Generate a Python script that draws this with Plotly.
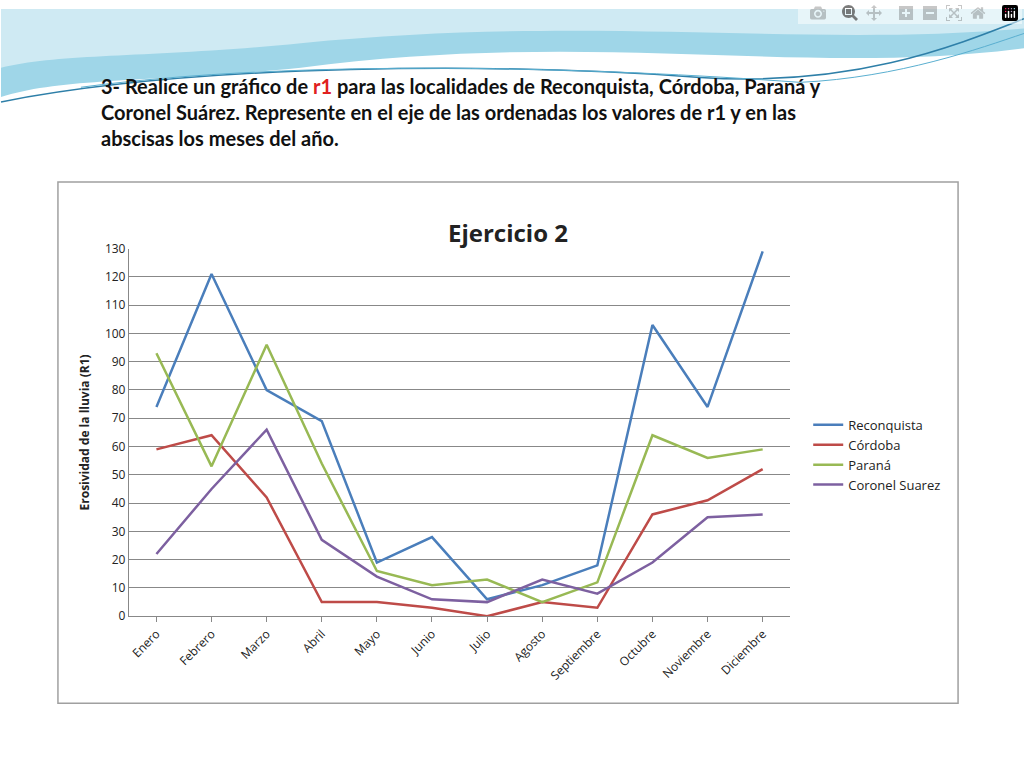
import plotly.graph_objects as go

months = ["Enero", "Febrero", "Marzo", "Abril", "Mayo", "Junio", "Julio",
          "Agosto", "Septiembre", "Octubre", "Noviembre", "Diciembre"]
reconquista = [74, 121, 80, 69, 19, 28, 6, 11, 18, 103, 74, 129]
cordoba = [59, 64, 42, 5, 5, 3, 0, 5, 3, 36, 41, 52]
parana = [93, 53, 96, 54, 16, 11, 13, 5, 12, 64, 56, 59]
coronel = [22, 45, 66, 27, 14, 6, 5, 13, 8, 19, 35, 36]

series = [
    ("Reconquista", reconquista, "#4A7EBB"),
    ("Córdoba", cordoba, "#BE4B48"),
    ("Paraná", parana, "#98B954"),
    ("Coronel Suarez", coronel, "#7D60A0"),
]

W, H = 1024, 768


def px(x, y):
    return f"{x / W:.4f},{1 - y / H:.4f}"


fig = go.Figure()
for name, vals, color in series:
    fig.add_trace(go.Scatter(x=months, y=vals, mode="lines", name=name,
                             line=dict(color=color, width=2.5)))

shapes = [
    # top decoration waves
    dict(type="path", xref="paper", yref="paper", line=dict(width=0),
         fillcolor="#9FD6E8",
         path=f"M{px(0,0)} L{px(1024,0)} L{px(1024,40)} C{px(800,70)} {px(600,20)} {px(300,60)} C{px(150,75)} {px(60,70)} {px(0,90)} Z"),
    dict(type="path", xref="paper", yref="paper", line=dict(width=0),
         fillcolor="#CFEAF3",
         path=f"M{px(0,0)} L{px(1024,0)} L{px(1024,20)} C{px(800,40)} {px(600,5)} {px(300,35)} C{px(150,50)} {px(60,45)} {px(0,60)} Z"),
    dict(type="path", xref="paper", yref="paper", line=dict(color="#2E7FA8", width=1.5),
         path=f"M{px(0,95)} C{px(200,55)} {px(500,55)} {px(700,70)} C{px(850,80)} {px(950,40)} {px(1024,10)}"),
    dict(type="path", xref="paper", yref="paper", line=dict(color="#5AAFD0", width=1),
         path=f"M{px(80,80)} C{px(300,50)} {px(600,60)} {px(800,75)} C{px(900,70)} {px(980,40)} {px(1024,25)}"),
    # chart box
    dict(type="rect", xref="paper", yref="paper", x0=57 / W, x1=958 / W,
         y0=1 - 710 / H, y1=1 - 177 / H, line=dict(color="#A0A0A0", width=1.5),
         fillcolor="white", layer="below"),
]

fig.update_layout(
    width=W, height=H,
    margin=dict(l=0, r=0, t=0, b=0),
    paper_bgcolor="white", plot_bgcolor="white",
    font=dict(family="Open Sans, Arial", color="#222"),
    shapes=shapes,
    xaxis=dict(domain=[128 / W, 790 / W], tickangle=-45, showgrid=False,
               showline=True, linecolor="#888", ticks="outside", tickcolor="#888",
               tickfont=dict(size=12), range=[-0.5, 11.5]),
    yaxis=dict(domain=[1 - 621 / H, 1 - 245 / H], range=[0, 130], dtick=10,
               showgrid=True, gridcolor="#888", gridwidth=1, showline=True,
               linecolor="#888", tickfont=dict(size=12, family="Open Sans"),
               title=dict(text="<b>Erosividad de la lluvia (R1)</b>",
                          font=dict(size=12), standoff=12)),
    legend=dict(x=808 / W, y=1 - 410 / H, xanchor="left", yanchor="top",
                font=dict(size=13), tracegroupgap=8, bgcolor="rgba(0,0,0,0)"),
    annotations=[
        dict(text="<b>Ejercicio 2</b>", xref="paper", yref="paper",
             x=507 / W, y=1 - 210 / H, showarrow=False, font=dict(size=24)),
        dict(text="<b>3- Realice un gráfico de <span style='color:#E02020'>r1</span> para las localidades de Reconquista, Córdoba, Paraná y<br>"
                  "Coronel Suárez. Represente en el eje de las ordenadas los valores de r1 y en las<br>"
                  "abscisas los meses del año.</b>",
             xref="paper", yref="paper", x=98 / W, y=1 - 64 / H, xanchor="left",
             yanchor="top", align="left", showarrow=False,
             font=dict(size=20, family="Lato, Open Sans", color="#111")),
    ],
)

fig.write_html("out.html",
               post_script="document.body.style.margin='0';document.body.style.overflow='hidden';")
